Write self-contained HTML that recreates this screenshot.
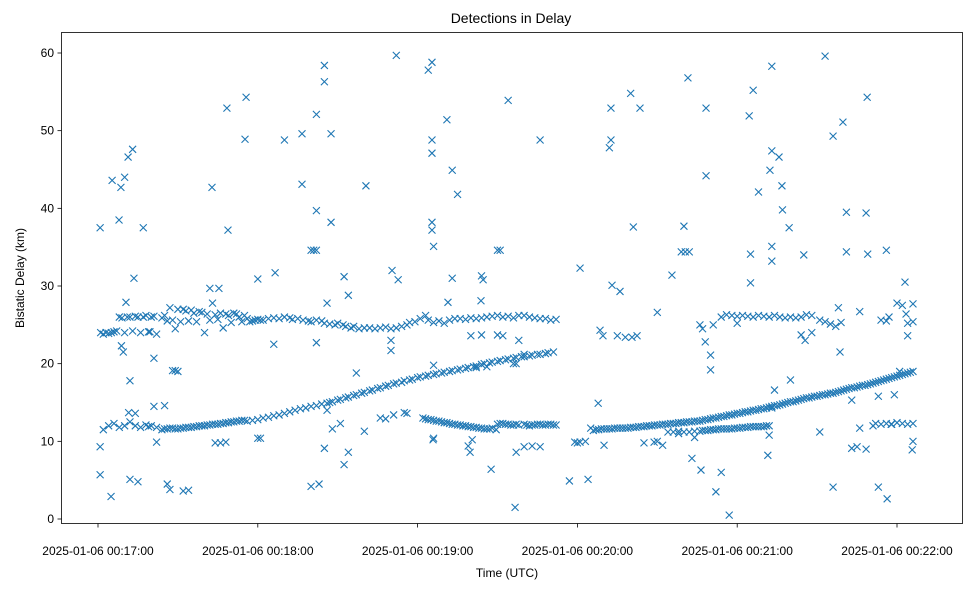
<!DOCTYPE html>
<html><head><meta charset="utf-8"><style>
body{margin:0;background:#fff;}
svg{display:block;font-family:"Liberation Sans","DejaVu Sans",sans-serif;}
</style></head><body>
<svg id="chart" width="979" height="590" viewBox="0 0 979 590" xmlns="http://www.w3.org/2000/svg">
<rect x="0" y="0" width="979" height="590" fill="#fff"/>
<text x="511" y="23" font-size="14" text-anchor="middle" fill="#000">Detections in Delay</text>
<text x="507" y="577" font-size="12" text-anchor="middle" fill="#000">Time (UTC)</text>
<text transform="translate(24,278) rotate(-90)" font-size="12" text-anchor="middle" fill="#000">Bistatic Delay (km)</text>
<g id="marks"></g>
<g id="axes"></g>
<rect x="61.5" y="32.5" width="901" height="491" fill="none" stroke="#000" stroke-width="0.8"/>
</svg>
<script>
// tick labels
const xTickSeconds = [0, 60, 120, 180, 240, 300];
const xTickLabels = ["2025-01-06 00:17:00","2025-01-06 00:18:00","2025-01-06 00:19:00","2025-01-06 00:20:00","2025-01-06 00:21:00","2025-01-06 00:22:00"];
const yTicks = [0, 10, 20, 30, 40, 50, 60];
// data: [seconds after 00:17:00, bistatic delay km]
const upperTrack = [[1,24],[2,23.8],[3,24],[4,23.9],[5,24],[6,24.1],[7,24.2],[8,26],[9,25.9],[10,24],[11,26],[12,26],[13,24.2],[14,26.1],[15,26],[16,24],[17,26],[18,26.2],[19,24.1],[20,26],[21,26.1],[22,23.8],[24,25.9],[25,26.2],[26,25.5],[27,27.2],[28,25.6],[29,24.5],[30,27],[31,25.4],[32,27],[33,26.8],[34,25.5],[35,26.9],[36,26.5],[37,25.4],[38,26.7],[39,26.6],[40,24],[41,26.4],[42,25.6],[43,27.8],[44,26.3],[45,25.7],[46,26.5],[47,24.6],[48,26.4],[49,26.2],[50,25.3],[51,26.5],[52,26.4],[53,26],[54,25.4],[55,26.2],[56,25.8],[57,25.4],[58,25.5],[59,25.6],[60,25.7],[61,25.6],[62,25.6],[64,25.8],[66,25.9],[68,25.8],[70,26],[72,25.9],[73,25.7],[75,25.8],[77,25.6],[79,25.5],[80,25.4],[82,25.6],[84,25.5],[85,25.2],[87,25.1],[89,25],[90,25.2],[92,25],[93,24.8],[95,24.6],[96,24.8],[98,24.5],[100,24.6],[102,24.6],[104,24.5],[106,24.6],[108,24.7],[110,24.5],[112,24.6],[114,24.8],[116,25],[117,25.3],[119,25.4],[121,25.8],[123,26.2],[124,25.6],[126,25.3],[128,25.5],[130,25.2],[132,25.6],[134,25.8],[136,25.8],[138,25.7],[140,25.9],[142,25.8],[144,25.9],[146,26],[148,26.1],[150,26.2],[152,26],[154,26.1],[156,25.9],[158,26.2],[160,26.2],[162,26],[164,25.9],[166,25.8],[168,25.8],[170,25.6],[172,25.7],
[234,26],[236,26.3],[238,26.2],[240,26.1],[242,26.2],[244,26.1],[246,26],[248,26.2],[250,26.1],[252,26],[254,26.2],[256,26],[258,25.9],[260,26],[262,25.9],[264,26],[266,26.3],[268,26.2],[271,25.6],[273,25.4],[275,25.1],[277,24.8],[279,25.3],[296,25.5],[297,26],[300,27.8],[302,27.5],[304,25.2],[306,27.7]];
const lowerTrack = [[2,11.5],[4,12],[6,12.3],[8,11.8],[10,12],[12,12.5],[14,12],[16,11.8],[18,12.1],[19,11.9],[20,12],[22,11.8],[24,11.5],[25,11.6],[26,11.6],[27,11.7],[28,11.7],[29,11.6],[30,11.6],[31,11.7],[32,11.7],[33,11.8],[34,11.8],[35,11.8],[36,11.9],[37,11.9],[38,12],[39,12],[40,12],[41,12.1],[42,12.1],[43,12.2],[44,12.2],[45,12.2],[46,12.3],[47,12.3],[48,12.4],[49,12.4],[50,12.5],[51,12.5],[52,12.6],[53,12.6],[54,12.7],[55,12.7],[56,12.6],[58,12.7],[60,12.8],[62,13],[64,13.1],[66,13.3],[68,13.4],[70,13.6],[72,13.8],[74,14],[76,14.2],[78,14.3],[80,14.5],[82,14.6],[84,14.8],[86,14.9],[87,15],[88,15.1],[90,15.3],[91,15.4],[93,15.6],[94,15.7],[96,15.9],[97,16],[99,16.2],[100,16.3],[102,16.5],[103,16.6],[105,16.8],[106,16.9],[108,17.1],[109,17.2],[111,17.4],[112,17.5],[114,17.6],[115,17.8],[117,17.9],[118,18],[120,18.2],[121,18.3],[123,18.4],[124,18.5],[126,18.6],[127,18.7],[129,18.8],[130,18.9],[132,19],[133,19.1],[135,19.2],[136,19.3],[138,19.4],[139,19.5],[141,19.6],[142,19.7],[144,19.9],[145,20],[147,20.1],[148,20.2],[150,20.3],[151,20.4],[153,20.5],[154,20.6],[156,20.7],[157,20.8],[159,20.9],[160,20.9],[162,21],[163,21.1],[165,21.2],[166,21.2],[168,21.3],[169,21.4],[171,21.5],
[122,13],[123,12.9],[124,12.8],[125,12.8],[126,12.7],[127,12.6],[128,12.6],[129,12.5],[130,12.4],[131,12.4],[132,12.3],[133,12.2],[134,12.2],[135,12.1],[136,12.1],[137,12],[138,12],[139,11.9],[140,11.9],[141,11.8],[142,11.8],[143,11.7],[144,11.7],[145,11.6],[146,11.6],[147,11.6],[148,11.7],[150,12.2],[151,12.3],[152,12.3],[153,12.2],[154,12.2],[155,12.1],[156,12.1],[157,12.2],[158,12.1],[160,12.2],[161,12.1],[162,12],[163,12.1],[164,12.1],[165,12.2],[166,12.2],[167,12.1],[168,12.1],[169,12.2],[170,12.2],[171,12.1],[172,12.1],
[187,11.5],[188,11.5],[189,11.6],[190,11.6],[191,11.6],[192,11.6],[193,11.6],[194,11.7],[195,11.7],[196,11.7],[197,11.7],[198,11.7],[199,11.7],[200,11.8],[201,11.8],[202,11.8],[203,11.9],[204,11.9],[205,11.9],[206,12],[207,12],[208,12],[209,12.1],[210,12.1],[211,12.1],[212,12.2],[213,12.2],[214,12.2],[215,12.3],[216,12.3],[217,12.3],[218,12.4],[219,12.4],[220,12.4],[221,12.5],[222,12.5],[223,12.5],[224,12.6],[225,12.6],[226,12.6],[227,12.7],[228,12.8],[229,12.8],[230,12.9],[231,13],[232,13],[233,13.1],[234,13.2],[235,13.2],[236,13.3],[237,13.4],[238,13.4],[239,13.5],[240,13.6],[241,13.6],[242,13.7],[243,13.8],[244,13.8],[245,13.9],[246,14],[247,14],[248,14.1],[249,14.2],[250,14.2],[251,14.3],[252,14.4],[253,14.5],[254,14.6],[255,14.6],[256,14.7],[257,14.8],[258,14.9],[259,15],[260,15.1],[261,15.1],[262,15.2],[263,15.3],[264,15.4],[265,15.5],[266,15.6],[267,15.6],[268,15.7],[269,15.8],[270,15.8],[271,15.9],[272,16],[273,16],[274,16.1],[275,16.2],[276,16.2],[277,16.3],[278,16.4],[279,16.5],[280,16.6],[281,16.7],[282,16.8],[283,16.9],[284,16.9],[285,17],[286,17.1],[287,17.2],[288,17.2],[289,17.3],[290,17.4],[291,17.5],[292,17.6],[293,17.7],[294,17.8],[295,17.9],[296,18],[297,18.1],[298,18.2],[299,18.3],[300,18.4],[301,18.5],[302,18.6],[303,18.7],[304,18.8],[305,18.9],[306,19],
[214,11.2],[216,11.2],[218,11.3],[220,11.2],[222,11.2],[224,11.3],[226,11.3],[227,11.4],[228,11.4],[229,11.4],[230,11.5],[231,11.5],[232,11.5],[233,11.6],[234,11.6],[235,11.6],[236,11.6],[237,11.6],[238,11.6],[239,11.7],[240,11.7],[241,11.7],[242,11.8],[243,11.8],[244,11.8],[245,11.9],[246,11.9],[247,11.9],[248,11.9],[249,11.9],[250,11.9],[251,12],[252,12],
[292,12.3],[294,12.2],[296,12.3],[298,12.2],[300,12.4],[302,12.3],[304,12.2],[306,12.3],[179,9.9],[180,9.8],[181,9.9],[183,10],[185,11.7],[186,11.4]];
const scatterPoints = [[0.8,37.5],[0.8,5.7],[0.8,9.3],[4.9,2.9],[5.3,43.6],[7.9,38.5],[8.6,42.7],[8.8,22.3],[9.5,21.5],[10,44],[10.5,27.9],[11.3,46.6],[11.5,13.7],[12,17.8],[12,5.1],[13,47.6],[13.5,31],[14,13.6],[15,4.8],[17,37.5],[19.5,24.1],[21,20.7],[21,14.5],[22,9.9],[25,14.6],[26,4.5],[27,3.8],[28,19.1],[29,19.1],[30,19],[32,3.6],[34,3.7],[42,29.7],[44,9.8],[42.8,42.7],[46,9.8],[48,9.9],[48.8,37.2],[48.4,52.9],[55.6,54.3],[55.2,48.9],[45.4,29.7],[60,10.4],[61,10.4],[60,30.9],[66,22.5],[66.5,31.7],[70,48.8],[80,4.2],[82,52.1],[82,22.7],[83,4.5],[76.6,43.1],[76.6,49.6],[85,9.1],[86,14],[88,11.6],[80,34.6],[82,34.6],[81,34.6],[91,12.3],[82,39.7],[94,8.6],[85,58.4],[85,56.3],[87.5,49.6],[87.5,38.2],[97,18.8],[86,27.8],[100,11.3],[92.4,7],[92.4,31.2],[94,28.8],[106,13],[108,12.9],[100.6,42.9],[111,13.4],[110.4,32],[112.7,30.8],[112,59.7],[110,21.7],[110,23],[115,13.7],[116,13.6],[125.4,58.8],[124,57.8],[125.4,48.8],[125.4,47.1],[125.4,38.2],[125.4,37.2],[126,35.1],[126,19.8],[125.8,10.2],[126,10.4],[131,51.4],[133,44.9],[135,41.8],[131.4,27.9],[133,31],[143.8,28.1],[144.6,30.8],[144,31.3],[150,34.6],[151,34.6],[154,53.9],[166,48.8],[147.6,6.4],[156.6,1.5],[139,9.4],[139.7,8.6],[140.5,10.2],[163,9.4],[166,9.3],[157,8.6],[160,9.3],[149.5,11.5],[144,23.7],[150,23.7],[152,23.6],[158,23],[160,21.2],[140,23.6],[142,19.5],[146,19.6],[156,20],[157,20],
[177,4.9],[181,32.3],[187.8,14.9],[192,47.8],[192.6,48.8],[192.6,52.9],[193,30.1],[188.5,24.3],[196,29.3],[200,54.8],[201,37.6],[203.5,52.9],[210,26.6],[215.5,31.4],[219,34.4],[220.5,34.4],[222,34.4],[220,37.7],[221.5,56.8],[228.3,52.9],[228.3,44.2],[230,21.1],[230,19.2],[226.4,6.3],[232,3.5],[234,6],[237,0.5],[244.5,51.9],[245,34.1],[245,30.4],[246,55.2],[248,42.1],[253,58.3],[253,47.4],[255.7,46.6],[256.8,42.9],[252.3,44.9],[257,39.8],[259.5,37.5],[253,35.1],[253,33.2],[254,16.6],[253,14.3],[252,10.8],[251.5,8.2],[260,17.9],[265.5,23],[265,34],[273,59.6],[276,49.3],[279.7,51.1],[278,27.2],[281,34.4],[281,39.5],[276,4.1],[271,11.2],[278.6,21.5],[283,9.1],[286,26.7],[288.4,39.4],[288.8,54.3],[289,34.1],[288.4,9],[286,11.7],[293,4.1],[296,34.6],[296.3,2.6],[297.8,12.2],[294,25.6],[303,30.5],[303.4,26.4],[305.7,8.9],[306,25.4],[306,10],[189.6,23.6],[198,23.4],[200.5,23.4],[202.4,23.6],[205,9.8],[208.8,9.9],[210,10],[212,9.5],[218,11],[223,7.8],[224,10.5],[226,25],[227,24.5],[231,25],[228,22.8],[240,25.2],[264,23.7],[268,24],[283,15.3],[285,9.3],[291,12],[293,15.8],[299,16],[301,19],[304,23.6],[190,9.5],[184,5.1],[195,23.6]];

const NS = "http://www.w3.org/2000/svg";
function xScale(s){ return 98 + s * (799 / 300); }
function yScale(v){ return 519 - v * (466 / 60); }

const axes = document.getElementById('axes');
xTickSeconds.forEach((s, i) => {
  const x = xScale(s);
  const t = document.createElementNS(NS, 'line');
  t.setAttribute('x1', x); t.setAttribute('x2', x);
  t.setAttribute('y1', 523.5); t.setAttribute('y2', 527.5);
  t.setAttribute('stroke', '#000'); t.setAttribute('stroke-width', '0.8');
  
  
  axes.appendChild(t);
  const l = document.createElementNS(NS, 'text');
  l.setAttribute('x', x); l.setAttribute('y', 555);
  l.setAttribute('font-size', '12'); l.setAttribute('text-anchor', 'middle');
  l.textContent = xTickLabels[i];
  
  
  axes.appendChild(l);
});
yTicks.forEach(v => {
  const y = yScale(v);
  const t = document.createElementNS(NS, 'line');
  t.setAttribute('x1', 57.5); t.setAttribute('x2', 61.5);
  t.setAttribute('y1', y); t.setAttribute('y2', y);
  t.setAttribute('stroke', '#000'); t.setAttribute('stroke-width', '0.8');
  
  
  axes.appendChild(t);
  const l = document.createElementNS(NS, 'text');
  l.setAttribute('x', 54); l.setAttribute('y', y + 4);
  l.setAttribute('font-size', '12'); l.setAttribute('text-anchor', 'end');
  l.textContent = v;
  
  
  axes.appendChild(l);
});

const marks = document.getElementById('marks');
function drawSeries(arr){
  arr.forEach(p => {
    const cx = xScale(p[0]), cy = yScale(p[1]);
    const path = document.createElementNS(NS, 'path');
    path.setAttribute('d', `M${cx-3.5},${cy-3.5}L${cx+3.5},${cy+3.5}M${cx-3.5},${cy+3.5}L${cx+3.5},${cy-3.5}`);
    path.setAttribute('stroke', '#1f77b4');
    path.setAttribute('stroke-width', '1.1');
    path.setAttribute('fill', 'none');
    
    
    marks.appendChild(path);
  });
}
drawSeries(upperTrack);
drawSeries(lowerTrack);
drawSeries(scatterPoints);
</script>
</body></html>
